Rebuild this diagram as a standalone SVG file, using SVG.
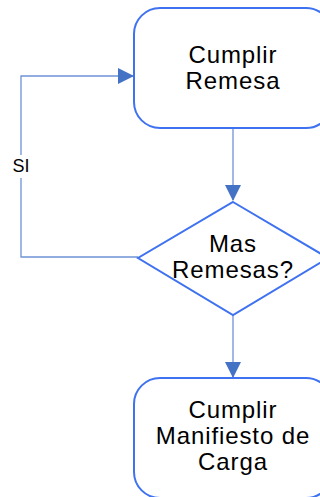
<svg xmlns="http://www.w3.org/2000/svg" width="320" height="497" viewBox="0 0 320 497">
<style>
.node{fill:#fff;stroke:#3f72f0;stroke-width:2}
.lbl{font-family:"Liberation Sans",Arial,sans-serif;font-size:24px;letter-spacing:0.9px;fill:#000;text-anchor:middle}
.conn{fill:none;stroke:#6f93d6;stroke-width:1.3}
.small{font-family:"Liberation Sans",Arial,sans-serif;font-size:18px;fill:#000;text-anchor:middle}
</style>
<defs>
<marker id="ah" markerWidth="16" markerHeight="16" refX="15" refY="8" orient="auto" markerUnits="userSpaceOnUse">
<path d="M0,0 L16,8 L0,16 Z" fill="#4472c4"/>
</marker>
</defs>
<g id="connectors">
<path class="conn" d="M233,129 V200" marker-end="url(#ah)"/>
<path class="conn" d="M233,315 V377" marker-end="url(#ah)"/>
<path class="conn" d="M138,257 H21 V76 H133" marker-end="url(#ah)"/>
<rect x="8" y="155" width="27" height="23" fill="#fff"/>
<text class="small" x="21" y="172">SI</text>
</g>
<g id="n1">
<rect class="node" x="134" y="8" width="198" height="120" rx="26" ry="26"/>
<text class="lbl" x="233" y="63">Cumplir</text>
<text class="lbl" x="233" y="89">Remesa</text>
</g>
<g id="n2">
<polygon class="node" points="233,202 328,258 233,315 138,258"/>
<text class="lbl" x="233" y="252">Mas</text>
<text class="lbl" x="233" y="278">Remesas?</text>
</g>
<g id="n3">
<rect class="node" x="134" y="378" width="198" height="120" rx="26" ry="26"/>
<text class="lbl" x="233" y="418">Cumplir</text>
<text class="lbl" x="233" y="443.5">Manifiesto de</text>
<text class="lbl" x="233" y="469.5">Carga</text>
</g>
</svg>
